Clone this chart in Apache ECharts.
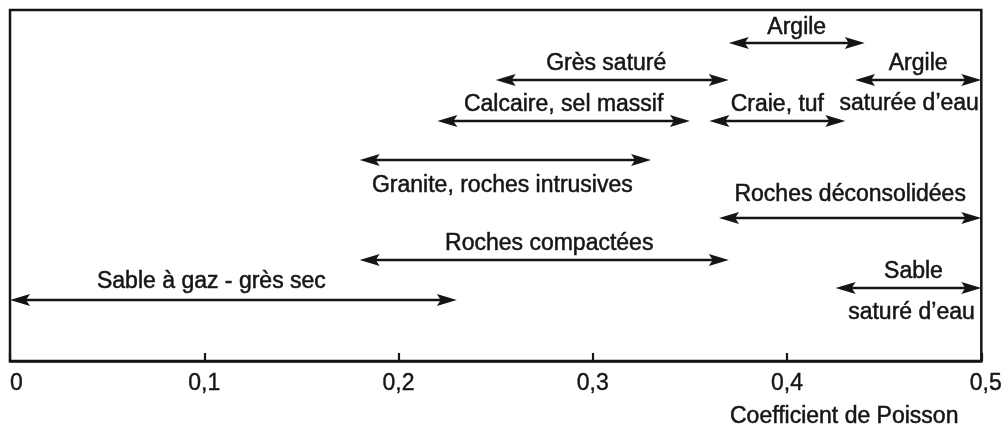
<!DOCTYPE html>
<html>
<head>
<meta charset="utf-8">
<script src="https://cdn.jsdelivr.net/npm/echarts@6/dist/echarts.min.js"></script>
<style>
  html, body { margin: 0; padding: 0; background: #fff; }
  #chart { width: 1005px; height: 430px; }
</style>
</head>
<body>
<div id="chart"></div>
<script>
// Poisson's ratio ranges by rock type
const categories = [
  'Argile',
  'Grès saturé',
  'Calcaire, sel massif',
  'Craie, tuf',
  'Argile saturée d’eau',
  'Granite, roches intrusives',
  'Roches déconsolidées',
  'Roches compactées',
  'Sable à gaz - grès sec',
  'Sable saturé d’eau'
];
const rangeMin = [0.37, 0.25, 0.22, 0.36, 0.435, 0.18, 0.365, 0.18, 0.00, 0.425];
const rangeMax = [0.44, 0.37, 0.35, 0.43, 0.50, 0.33, 0.50, 0.37, 0.23, 0.50];
const tickLabels = ['0', '0,1', '0,2', '0,3', '0,4', '0,5'];
const axisTitle = 'Coefficient de Poisson';

// Text drawn above / below each arrow
const textAbove = ['Argile', 'Grès saturé', 'Calcaire, sel massif', 'Craie, tuf', 'Argile', '',
  'Roches déconsolidées', 'Roches compactées', 'Sable à gaz - grès sec', 'Sable'];
const textBelow = ['', '', '', '', 'saturée d’eau', 'Granite, roches intrusives', '', '', '', 'saturé d’eau'];

// Layout: depth of each arrow below the top of the frame, label gaps and nudges (px)
const laneDepth = [33, 70, 111, 111, 70, 150, 208, 250, 290, 278];
const gapAbove = [15, 16, 16, 16, 16, 0, 23, 16, 18, 16];
const gapBelow = [0, 0, 0, 0, 24, 26, 0, 0, 0, 25];
const nudgeAbove = [0, -6, 0, 0, 0, 0, 0, 5, -22, 5];
const nudgeBelow = [0, 0, 0, 0, -9, -3, 0, 0, 0, 3];

const FONT = '"Liberation Sans", Arial, sans-serif';
const INK = '#151515';

const seriesData = categories.map((c, i) => ({
  name: c,
  value: [rangeMin[i], rangeMax[i], laneDepth[i], i]
}));

function labelStyle(text, x, y) {
  return {
    text, x, y,
    align: 'center', verticalAlign: 'middle',
    font: '23px ' + FONT, fill: INK,
    stroke: INK, lineWidth: 0.5
  };
}

function renderArrow(params, api) {
  const i = api.value(3);
  const lane = api.value(2);
  const p0 = api.coord([api.value(0), lane]);
  const p1 = api.coord([api.value(1), lane]);
  const y = p0[1];
  const L = 20, W = 6;
  const children = [
    {
      type: 'line',
      shape: { x1: p0[0] + L * 0.7, y1: y, x2: p1[0] - L * 0.7, y2: y },
      style: { stroke: INK, lineWidth: 2.7 }
    },
    {
      type: 'polygon',
      shape: { points: [[p0[0], y], [p0[0] + L, y - W], [p0[0] + L * 0.8, y], [p0[0] + L, y + W]] },
      style: { fill: INK }
    },
    {
      type: 'polygon',
      shape: { points: [[p1[0], y], [p1[0] - L, y - W], [p1[0] - L * 0.8, y], [p1[0] - L, y + W]] },
      style: { fill: INK }
    }
  ];
  const cx = (p0[0] + p1[0]) / 2;
  if (textAbove[i]) {
    children.push({ type: 'text', style: labelStyle(textAbove[i], cx + nudgeAbove[i], y - gapAbove[i]) });
  }
  if (textBelow[i]) {
    children.push({ type: 'text', style: labelStyle(textBelow[i], cx + nudgeBelow[i], y + gapBelow[i]) });
  }
  return { type: 'group', children };
}

const chart = echarts.init(document.getElementById('chart'), null, { renderer: 'canvas' });
chart.setOption({
  animation: false,
  backgroundColor: '#fff',
  grid: {
    left: 10, right: 22, top: 10, bottom: 69,
    show: true, borderColor: INK, borderWidth: 2.5, backgroundColor: 'transparent'
  },
  title: {
    text: axisTitle,
    left: 725, top: 400,
    textStyle: {
      fontFamily: FONT, fontSize: 23, fontWeight: 'normal', color: INK,
      textBorderColor: INK, textBorderWidth: 0.5
    }
  },
  xAxis: {
    type: 'value', min: 0, max: 0.5, interval: 0.1,
    axisLine: { show: true, onZero: false, lineStyle: { color: INK, width: 2.5 } },
    axisTick: { show: true, inside: true, length: 8, lineStyle: { color: INK, width: 2.2 } },
    splitLine: { show: false },
    axisLabel: {
      margin: 11, fontFamily: FONT, fontSize: 23, color: INK,
      textBorderColor: INK, textBorderWidth: 0.4,
      alignMinLabel: 'left',
      formatter: (v) => {
        const k = Math.round(v * 10);
        return k === tickLabels.length - 1 ? '{last|' + tickLabels[k] + '}' : tickLabels[k];
      },
      rich: {
        last: {
          fontFamily: FONT, fontSize: 23, color: INK,
          textBorderColor: INK, textBorderWidth: 0.4,
          padding: [0, 0, 0, 9]
        }
      }
    }
  },
  yAxis: {
    type: 'value', min: 0, max: 351, inverse: true, show: false
  },
  series: [{
    type: 'custom',
    renderItem: renderArrow,
    encode: { x: [0, 1], y: 2 },
    data: seriesData,
    clip: false
  }]
});
</script>
</body>
</html>
